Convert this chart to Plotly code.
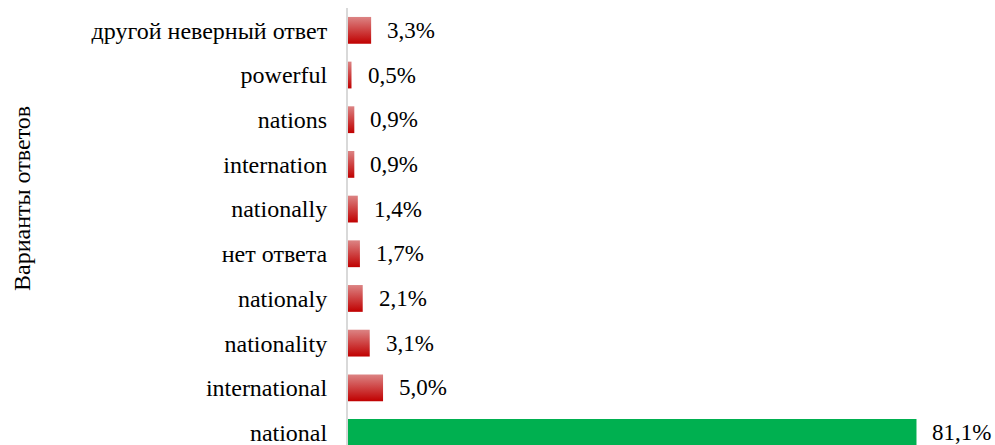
import plotly.graph_objects as go

categories = ["national", "international", "nationality", "nationaly", "нет ответа",
              "nationally", "internation", "nations", "powerful", "другой неверный ответ"]
values = [81.1, 5.0, 3.1, 2.1, 1.7, 1.4, 0.9, 0.9, 0.5, 3.3]
labels = ["81,1%", "5,0%", "3,1%", "2,1%", "1,7%", "1,4%", "0,9%", "0,9%", "0,5%", "3,3%"]
correct = [True, False, False, False, False, False, False, False, False, False]

FONT = "Liberation Serif"
HALF = 0.3

fig = go.Figure()
for i, (v, ok) in enumerate(zip(values, correct)):
    if ok:
        fig.add_trace(go.Bar(x=[v], y=[i], orientation="h", width=2 * HALF,
                             marker=dict(color="#00b050", line=dict(width=0)),
                             hoverinfo="skip", showlegend=False))
    else:
        fig.add_trace(go.Scatter(
            x=[0, v, v, 0, 0], y=[i - HALF, i - HALF, i + HALF, i + HALF, i - HALF],
            mode="lines", line=dict(width=0), fill="toself",
            fillgradient=dict(type="vertical",
                              colorscale=[[0, "#c00000"], [1, "#dc8484"]]),
            hoverinfo="skip", showlegend=False))

annotations = []
for i, (v, t) in enumerate(zip(values, labels)):
    annotations.append(dict(x=v, y=i, xref="x", yref="y", text=t, showarrow=False,
                            xanchor="left", yanchor="middle", xshift=14,
                            font=dict(family=FONT, size=23, color="#000000")))
annotations.append(dict(x=-(348 - 22) / 647, y=(445 - 199) / 437, xref="paper", yref="paper",
                        text="Варианты ответов", textangle=-90, showarrow=False,
                        xanchor="center", yanchor="middle",
                        font=dict(family=FONT, size=24, color="#000000")))

fig.update_layout(
    width=995, height=445,
    margin=dict(l=348, r=0, t=8, b=0),
    plot_bgcolor="white", paper_bgcolor="white",
    xaxis=dict(range=[0, 92.3], visible=False, fixedrange=True),
    yaxis=dict(range=[-0.28, 9.5], tickmode="array", tickvals=list(range(len(categories))),
               ticktext=categories, showgrid=False, zeroline=False, fixedrange=True,
               showline=True, linecolor="#d9d9d9", linewidth=2,
               ticks="outside", ticklen=14, tickcolor="rgba(0,0,0,0)",
               ticklabeloverflow="allow", automargin=False,
               tickfont=dict(family=FONT, size=24, color="#000000")),
    annotations=annotations,
)

fig.write_html("out.html", config={"displayModeBar": False},
               post_script="document.body.style.margin='0';")
